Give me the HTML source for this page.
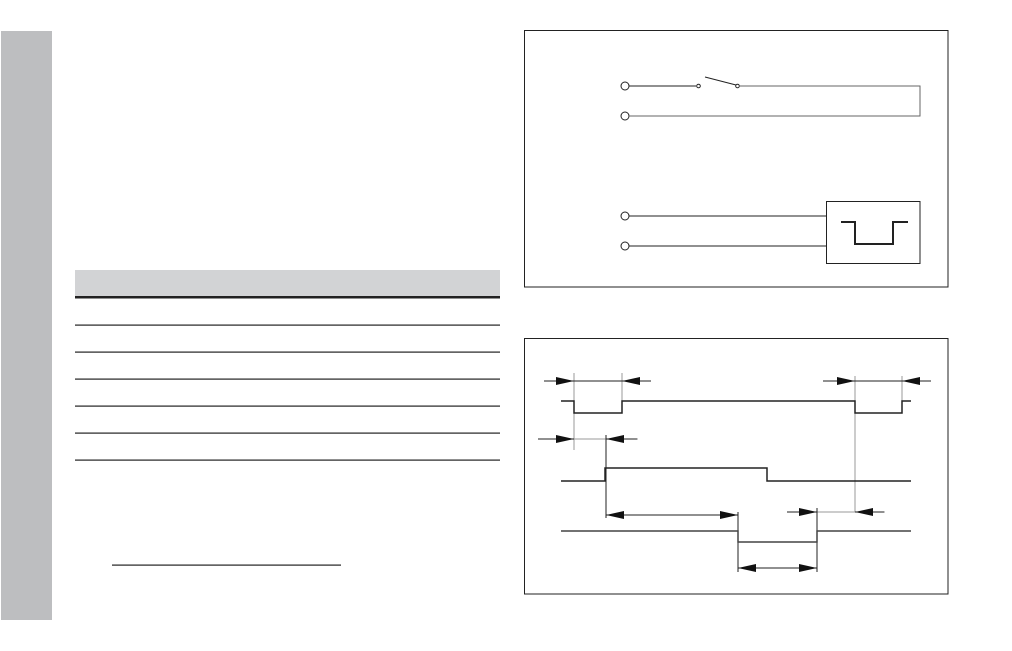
<!DOCTYPE html>
<html><head><meta charset="utf-8"><style>
html,body{margin:0;padding:0;background:#fff;}
svg{display:block;}
</style></head><body>
<svg width="1012" height="651" viewBox="0 0 1012 651" xmlns="http://www.w3.org/2000/svg">
<defs>
<marker id="a" viewBox="0 0 18 8" refX="18" refY="4" markerWidth="18" markerHeight="8" markerUnits="userSpaceOnUse" orient="auto"><path d="M0,0 L18,4 L0,8 Z" fill="#111"/></marker>
</defs>
<rect x="0" y="0" width="1012" height="651" fill="#fff"/>
<rect x="1" y="31" width="51" height="589" fill="#bdbec0"/>
<rect x="75" y="270" width="425" height="27" fill="#d2d3d5"/>
<rect x="75" y="296" width="425" height="2.5" fill="#222"/>
<g fill="#222">
<rect x="75" y="324.5" width="425" height="1.2"/>
<rect x="75" y="351.5" width="425" height="1.2"/>
<rect x="75" y="378.5" width="425" height="1.2"/>
<rect x="75" y="405.5" width="425" height="1.2"/>
<rect x="75" y="432.5" width="425" height="1.2"/>
<rect x="75" y="459.5" width="425" height="1.2"/>
<rect x="112" y="564.5" width="229" height="1.2"/>
</g>
<!-- top box -->
<rect x="524.5" y="30.5" width="423.5" height="256.5" fill="none" stroke="#222" stroke-width="1"/>
<g fill="none" stroke="#222" stroke-width="1">
<circle cx="625" cy="86" r="4"/>
<circle cx="625" cy="116" r="4"/>
<circle cx="625" cy="216" r="4"/>
<circle cx="625" cy="246" r="4"/>
<line x1="629" y1="86" x2="696" y2="86"/>
<circle cx="698.5" cy="86" r="1.8"/>
<line x1="705" y1="77" x2="736" y2="85"/>
<circle cx="737.5" cy="86" r="1.8"/>
<polyline points="740,86 920,86 920,116 629,116" stroke="#666"/>
<line x1="629" y1="216" x2="826" y2="216"/>
<line x1="629" y1="246" x2="826" y2="246"/>
<rect x="826.5" y="201.5" width="93.5" height="62"/>
<polyline points="841,222 855,222 855,244 893,244 893,222 908,222" stroke-width="2"/>
</g>
<!-- bottom box -->
<rect x="524.5" y="338.5" width="423.5" height="255.5" fill="none" stroke="#222" stroke-width="1"/>
<g fill="none" stroke="#999" stroke-width="1">
<line x1="574" y1="373" x2="574" y2="450"/>
<line x1="622" y1="373" x2="622" y2="401"/>
<line x1="855" y1="376" x2="855" y2="512"/>
<line x1="902" y1="376" x2="902" y2="401"/>
<line x1="574" y1="439" x2="638" y2="439"/>
<line x1="817" y1="512" x2="885" y2="512"/>
<line x1="738" y1="568" x2="817" y2="568"/>
</g>
<g fill="none" stroke="#222" stroke-width="1">
<line x1="606" y1="435" x2="606" y2="518"/>
<line x1="738" y1="512" x2="738" y2="572"/>
<line x1="817" y1="508" x2="817" y2="572"/>
<line x1="544" y1="381" x2="651" y2="381"/>
<line x1="823" y1="381" x2="931" y2="381"/>
<line x1="538" y1="439" x2="574" y2="439"/>
<line x1="787" y1="512" x2="817" y2="512"/>
<line x1="606" y1="515" x2="738" y2="515"/>
</g>
<g stroke="#222" stroke-width="1" fill="none">
<line x1="545" y1="381" x2="574" y2="381" marker-end="url(#a)"/>
<line x1="650" y1="381" x2="622" y2="381" marker-end="url(#a)"/>
<line x1="824" y1="381" x2="855" y2="381" marker-end="url(#a)"/>
<line x1="930" y1="381" x2="902" y2="381" marker-end="url(#a)"/>
<line x1="539" y1="439" x2="574" y2="439" marker-end="url(#a)"/>
<line x1="637" y1="439" x2="606" y2="439" marker-end="url(#a)"/>
<line x1="788" y1="512" x2="817" y2="512" marker-end="url(#a)"/>
<line x1="884" y1="512" x2="855" y2="512" marker-end="url(#a)"/>
<line x1="670" y1="515" x2="606" y2="515" marker-end="url(#a)"/>
<line x1="680" y1="515" x2="738" y2="515" marker-end="url(#a)"/>
<line x1="778" y1="568" x2="738" y2="568" marker-end="url(#a)"/>
<line x1="778" y1="568" x2="817" y2="568" marker-end="url(#a)"/>
</g>
<g fill="none" stroke="#222" stroke-width="1.5">
<polyline points="561,401 574,401 574,413 622,413 622,401 855,401 855,413 902,413 902,401 911,401"/>
<polyline points="561,481 605,481 605,468 767,468 767,481 911,481"/>
<polyline points="561,531 738,531 738,542 817,542 817,531 911,531" stroke="#444"/>
</g>
</svg>
</body></html>
